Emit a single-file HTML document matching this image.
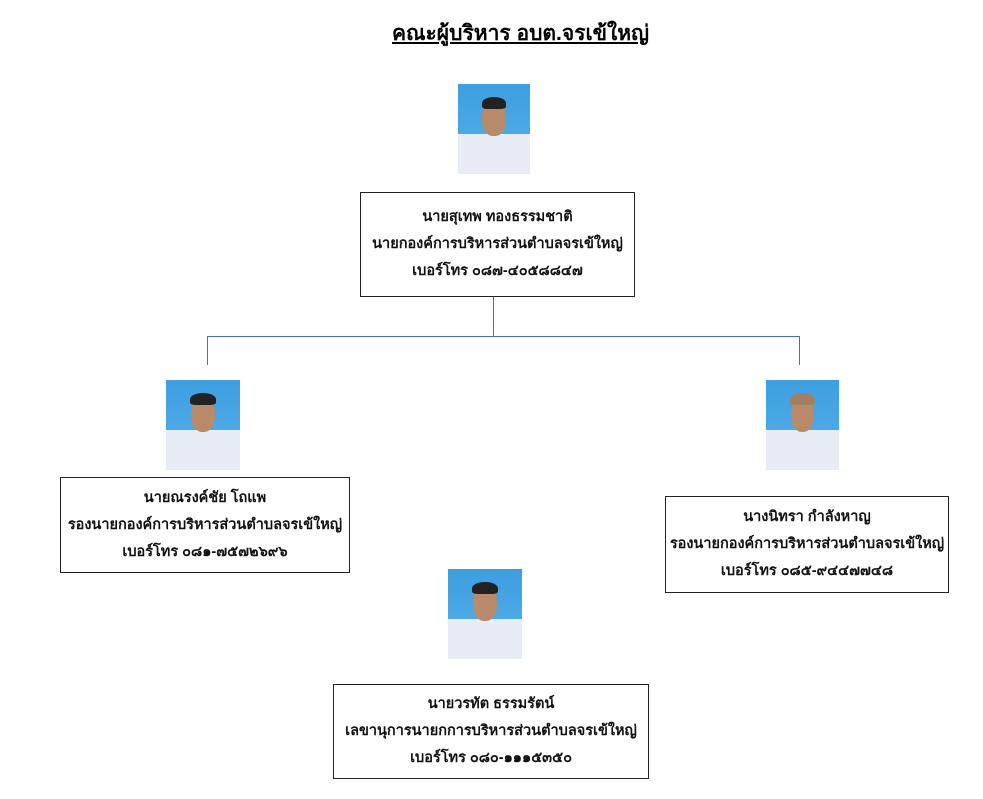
<!DOCTYPE html>
<html><head><meta charset="utf-8"><style>
body{margin:0;width:983px;height:799px;background:#fff;position:relative;overflow:hidden;font-family:"Liberation Sans","Noto Sans CJK SC",sans-serif;}
.t{position:absolute;left:0;width:983px;top:17px;text-align:center;font-size:21px;font-weight:bold;}
.t span{text-decoration:underline;padding-left:58px}
.box{position:absolute;border:1px solid #222;box-sizing:border-box;text-align:center;font-size:14.5px;font-weight:bold;line-height:27px;display:flex;flex-direction:column;justify-content:center;color:#111}
.ph{position:absolute;background:linear-gradient(#3d9ee0,#5ab2ea);overflow:hidden}
.ph .b{position:absolute;left:0;right:0;bottom:0;height:44%;background:#e8ecf4}
.ph .h{position:absolute;left:34%;width:32%;top:18%;height:40%;background:#b88a6a;border-radius:45%}
.ph .hr{position:absolute;left:33%;width:34%;top:14%;height:14%;background:#222;border-radius:50% 50% 20% 20%}
.ln{position:absolute;background:#3f72b8}
</style></head><body>
<div class="t"><span>คณะผู้บริหาร อบต.จรเข้ใหญ่</span></div>

<div class="ph" style="left:458px;top:84px;width:72px;height:90px"><div class="b"></div><div class="h"></div><div class="hr"></div></div>
<div class="ph" style="left:166px;top:380px;width:74px;height:90px"><div class="b"></div><div class="h"></div><div class="hr"></div></div>
<div class="ph" style="left:766px;top:380px;width:73px;height:90px"><div class="b"></div><div class="h"></div><div class="hr" style="background:#a08060"></div></div>
<div class="ph" style="left:448px;top:569px;width:74px;height:90px"><div class="b"></div><div class="h"></div><div class="hr"></div></div>

<div class="ln" style="left:493px;top:296px;width:1px;height:41px"></div>
<div class="ln" style="left:207px;top:336px;width:593px;height:1px"></div>
<div class="ln" style="left:207px;top:336px;width:1px;height:29px"></div>
<div class="ln" style="left:799px;top:336px;width:1px;height:29px"></div>

<div class="box" style="left:360px;top:192px;width:275px;height:105px"><div>นายสุเทพ ทองธรรมชาติ</div><div>นายกองค์การบริหารส่วนตำบลจรเข้ใหญ่</div><div>เบอร์โทร ๐๘๗-๔๐๕๘๘๔๗</div></div>
<div class="box" style="left:60px;top:477px;width:290px;height:96px"><div>นายณรงค์ชัย โถแพ</div><div>รองนายกองค์การบริหารส่วนตำบลจรเข้ใหญ่</div><div>เบอร์โทร ๐๘๑-๗๕๗๒๖๙๖</div></div>
<div class="box" style="left:665px;top:496px;width:284px;height:97px"><div>นางนิทรา กำลังหาญ</div><div>รองนายกองค์การบริหารส่วนตำบลจรเข้ใหญ่</div><div>เบอร์โทร ๐๘๕-๙๔๔๗๗๔๘</div></div>
<div class="box" style="left:333px;top:684px;width:316px;height:95px"><div>นายวรทัต ธรรมรัตน์</div><div>เลขานุการนายกการบริหารส่วนตำบลจรเข้ใหญ่</div><div>เบอร์โทร ๐๘๐-๑๑๑๕๓๕๐</div></div>
</body></html>
